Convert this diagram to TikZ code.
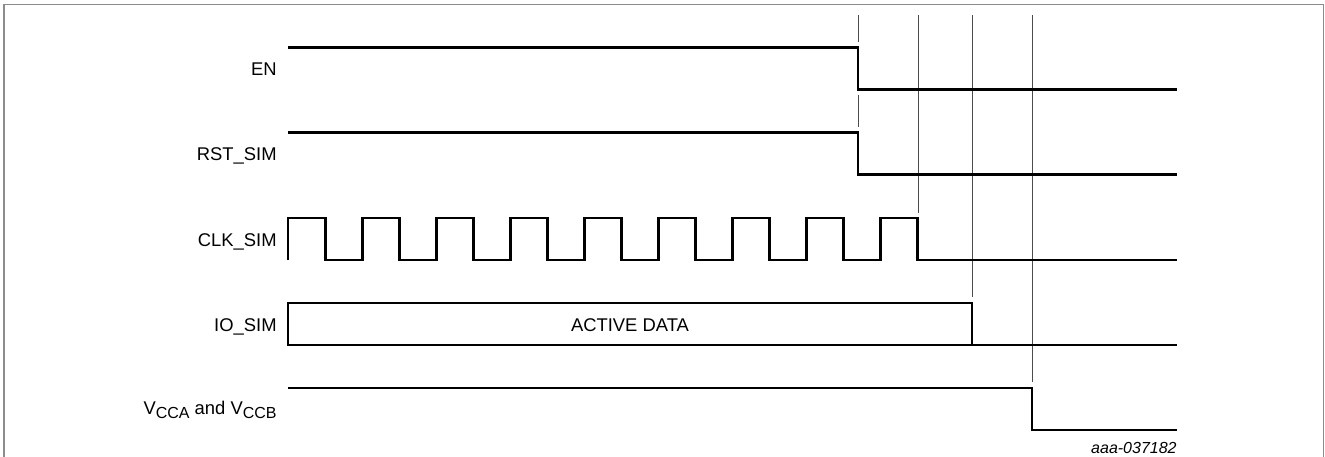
\documentclass[tikz,border=0pt]{standalone}
\usepackage{fontspec}
\setmainfont{Liberation Sans}
\usetikzlibrary{positioning, calc}
\tikzstyle{wave} = [line width=1.45pt, line join=miter, black]
\tikzstyle{marker} = [line width=0.5pt, black!70]
\tikzstyle{siglabel} = [inner sep=0pt, anchor=base east, font=\fontsize{9.2}{11}\selectfont]
\newcommand{\subidx}[1]{\raisebox{-0.45ex}{\fontsize{8}{9}\selectfont #1}}

\begin{document}
\begin{tikzpicture}[x=0.5pt, y=-0.5pt]
        \useasboundingbox (0,0) rectangle (1325,456);
        \draw[black!45, line width=0.6pt] (4,460) -- (4,4.5) -- (1323.5,4.5) -- (1323.5,460);

        % signal names
        \node[siglabel] (en) at (277,75) {EN};
        \node[siglabel] (rst) at (277,160) {RST\_SIM};
        \node[siglabel] (clk) at (277,246) {CLK\_SIM};
        \node[siglabel] (io) at (277,331) {IO\_SIM};
        \node[siglabel] (vcc) at (277,414) {V\subidx{CCA} and V\subidx{CCB}};

        % time marks
        \coordinate (t1) at (858,15);
        \coordinate (t2) at (918,15);
        \coordinate (t3) at (972,15);
        \coordinate (t4) at (1032,15);
        \draw[marker] (t1) -- ++(0,27);
        \draw[marker] ($(t1)+(0,80)$) -- ++(0,32);
        \draw[marker] (t2) -- (918,213);
        \draw[marker] (t3) -- (972,297);
        \draw[marker] (t4) -- (1032,382);

        % waveforms
        \draw[wave] (288,47.5) -- (858,47.5) -- (858,89.5) -- (1177,89.5);
        \draw[wave] (288,132.5) -- (858,132.5) -- (858,174.5) -- (1177,174.5);
        \draw[wave] (288,260) \foreach \k in {0,...,8} {
                -- (288+\k*74.1,218) -- (288+\k*74.1+37.05,218)
                -- (288+\k*74.1+37.05,260) -- (288+\k*74.1+74.1,260) } -- (1177,260);
        \draw[wave] (288,303) rectangle (972,345);
        \draw[wave] (972,345) -- (1177,345);
        \node[font=\fontsize{9.2}{11}\selectfont, inner sep=0pt] (data) at (630,325) {ACTIVE DATA};
        \draw[wave] (288,388) -- (1032,388) -- (1032,430) -- (1177,430);

        \node[inner sep=0pt, anchor=base east, font=\fontsize{8}{10}\selectfont\itshape] (fig) at (1177,453) {aaa-037182};
\end{tikzpicture}
\end{document}
